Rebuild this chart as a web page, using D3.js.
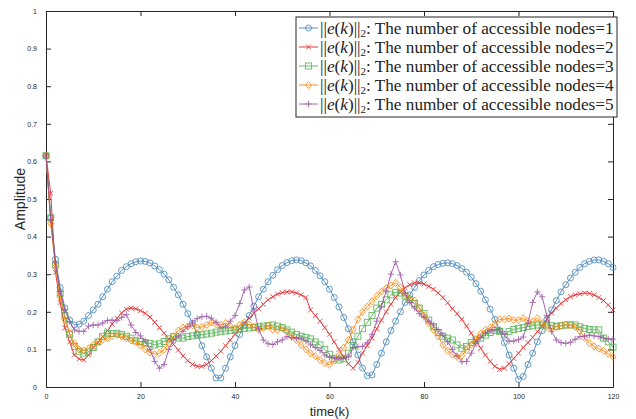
<!DOCTYPE html>
<html><head><meta charset="utf-8">
<script src="https://cdn.jsdelivr.net/npm/d3@7"></script>
<style>body{margin:0;background:#fff}svg{display:block}</style>
</head><body>
<svg id="c" width="636" height="419"></svg>
<script>
const xTicks = [0,20,40,60,80,100,120];
const yTicks = [0,0.1,0.2,0.3,0.4,0.5,0.6,0.7,0.8,0.9,1];
const seriesLabels = ["1","2","3","4","5"];
const seriesColors = ["#377eb8","#e41a1c","#4daf4a","#ff7f00","#984ea3"];
const seriesMarkers = ["circle","x","square","diamond","plus"];

const s1 = [0.615,0.45,0.34,0.265,0.21,0.178,0.165,0.167,0.175,0.19,0.205,0.22,0.24,0.26,0.28,0.295,0.31,0.32,0.328,0.333,0.335,0.334,0.33,0.322,0.312,0.3,0.285,0.265,0.245,0.22,0.195,0.17,0.14,0.11,0.08,0.05,0.024,0.024,0.05,0.08,0.11,0.14,0.165,0.19,0.215,0.24,0.26,0.28,0.297,0.312,0.323,0.331,0.336,0.338,0.336,0.33,0.322,0.31,0.296,0.28,0.26,0.238,0.213,0.185,0.155,0.12,0.085,0.05,0.03,0.032,0.06,0.09,0.12,0.15,0.175,0.2,0.225,0.245,0.265,0.283,0.298,0.31,0.32,0.326,0.329,0.33,0.328,0.323,0.315,0.305,0.292,0.275,0.255,0.232,0.207,0.18,0.15,0.118,0.085,0.05,0.02,0.028,0.06,0.09,0.12,0.15,0.18,0.205,0.23,0.253,0.272,0.29,0.305,0.318,0.328,0.334,0.338,0.338,0.334,0.328,0.318];
const s2 = [0.615,0.515,0.305,0.225,0.157,0.12,0.085,0.075,0.072,0.085,0.105,0.118,0.134,0.15,0.167,0.183,0.197,0.207,0.21,0.208,0.203,0.196,0.186,0.172,0.158,0.143,0.128,0.113,0.098,0.083,0.07,0.06,0.055,0.055,0.06,0.07,0.082,0.095,0.11,0.125,0.14,0.155,0.17,0.183,0.196,0.208,0.22,0.232,0.24,0.247,0.251,0.253,0.253,0.25,0.245,0.238,0.205,0.19,0.175,0.158,0.14,0.12,0.1,0.08,0.062,0.05,0.065,0.09,0.11,0.13,0.155,0.178,0.2,0.22,0.238,0.252,0.264,0.272,0.277,0.277,0.274,0.268,0.26,0.25,0.238,0.224,0.208,0.195,0.18,0.162,0.143,0.123,0.103,0.085,0.068,0.055,0.047,0.05,0.062,0.076,0.09,0.105,0.118,0.132,0.147,0.163,0.18,0.197,0.21,0.222,0.232,0.24,0.245,0.248,0.25,0.249,0.245,0.238,0.23,0.218,0.205];
const s3 = [0.615,0.45,0.325,0.25,0.19,0.14,0.108,0.095,0.09,0.093,0.105,0.12,0.135,0.143,0.142,0.143,0.14,0.135,0.13,0.123,0.121,0.118,0.116,0.112,0.115,0.121,0.128,0.134,0.13,0.13,0.134,0.136,0.138,0.139,0.141,0.143,0.146,0.147,0.149,0.15,0.152,0.154,0.156,0.157,0.158,0.16,0.162,0.163,0.165,0.162,0.158,0.152,0.146,0.14,0.135,0.132,0.128,0.12,0.112,0.1,0.087,0.075,0.072,0.075,0.09,0.11,0.135,0.155,0.172,0.19,0.21,0.22,0.232,0.245,0.252,0.25,0.242,0.232,0.222,0.21,0.196,0.178,0.161,0.145,0.135,0.13,0.125,0.112,0.103,0.108,0.118,0.125,0.13,0.138,0.145,0.15,0.148,0.139,0.148,0.153,0.156,0.158,0.161,0.163,0.165,0.165,0.165,0.163,0.161,0.163,0.165,0.165,0.165,0.16,0.156,0.153,0.152,0.152,0.13,0.12,0.106];
const s4 = [0.615,0.435,0.32,0.24,0.179,0.143,0.116,0.1,0.097,0.103,0.112,0.12,0.126,0.13,0.135,0.139,0.135,0.13,0.124,0.12,0.11,0.1,0.092,0.087,0.09,0.1,0.116,0.135,0.15,0.158,0.161,0.164,0.158,0.16,0.165,0.172,0.167,0.165,0.17,0.162,0.156,0.165,0.172,0.166,0.16,0.152,0.157,0.163,0.152,0.152,0.156,0.148,0.135,0.125,0.112,0.1,0.09,0.082,0.072,0.064,0.059,0.07,0.085,0.105,0.125,0.152,0.18,0.2,0.214,0.228,0.242,0.254,0.263,0.27,0.277,0.265,0.245,0.236,0.23,0.21,0.19,0.17,0.152,0.135,0.112,0.097,0.086,0.08,0.083,0.098,0.113,0.127,0.142,0.152,0.158,0.168,0.18,0.18,0.182,0.178,0.178,0.183,0.176,0.174,0.183,0.17,0.16,0.156,0.16,0.163,0.165,0.165,0.16,0.15,0.13,0.117,0.108,0.102,0.096,0.088,0.08];
const s5 = [0.615,0.445,0.33,0.254,0.205,0.174,0.152,0.148,0.148,0.162,0.165,0.165,0.17,0.177,0.178,0.176,0.185,0.193,0.165,0.145,0.136,0.122,0.1,0.068,0.05,0.06,0.1,0.125,0.135,0.148,0.16,0.17,0.182,0.187,0.188,0.183,0.172,0.158,0.16,0.175,0.19,0.222,0.258,0.266,0.205,0.155,0.125,0.115,0.113,0.12,0.125,0.134,0.131,0.13,0.13,0.122,0.112,0.105,0.097,0.085,0.08,0.077,0.077,0.077,0.08,0.105,0.107,0.108,0.118,0.14,0.175,0.215,0.255,0.3,0.333,0.298,0.25,0.225,0.21,0.195,0.185,0.175,0.165,0.152,0.138,0.12,0.1,0.083,0.067,0.068,0.09,0.115,0.132,0.143,0.15,0.153,0.152,0.14,0.122,0.122,0.126,0.133,0.17,0.225,0.253,0.24,0.19,0.148,0.125,0.118,0.116,0.119,0.127,0.134,0.135,0.138,0.136,0.134,0.13,0.128,0.127];
const seriesValues = [s1,s2,s3,s4,s5];

const svg = d3.select("#c");
const L=46, R=613, T=11, B=387;
const x = d3.scaleLinear().domain([0,120]).range([L,R]);
const y = d3.scaleLinear().domain([0,1]).range([B,T]);
const axCol = "#262626";
const tickFont = "Liberation Sans, Arial, sans-serif";

const gx = svg.append("g").attr("transform",`translate(0,${B})`)
  .call(d3.axisBottom(x).tickValues(xTicks).tickSizeInner(-5).tickSizeOuter(0).tickPadding(7));
const gy = svg.append("g").attr("transform",`translate(${L},0)`)
  .call(d3.axisLeft(y).tickValues(yTicks).tickFormat(d=>d3.format("~g")(d)).tickSizeInner(-5).tickSizeOuter(0).tickPadding(9));
const gt = svg.append("g").attr("transform",`translate(0,${T})`)
  .call(d3.axisTop(x).tickValues(xTicks).tickSizeInner(-5).tickSizeOuter(0).tickFormat(""));
const gr = svg.append("g").attr("transform",`translate(${R},0)`)
  .call(d3.axisRight(y).tickValues(yTicks).tickSizeInner(-5).tickSizeOuter(0).tickFormat(""));
[gx,gy,gt,gr].forEach(g=>{
  g.selectAll("path").attr("stroke",axCol).attr("stroke-width",1);
  g.selectAll("line").attr("stroke",axCol);
  g.selectAll("text").attr("fill",axCol).style("font-family",tickFont).style("font-size","7px");
});

function marker(g, type, cx, cy, col){
  const s=3;
  if(type==="circle") g.append("circle").attr("cx",cx).attr("cy",cy).attr("r",s).attr("fill","none").attr("stroke",col).attr("stroke-width",0.9);
  else if(type==="square") g.append("rect").attr("x",cx-s).attr("y",cy-s).attr("width",2*s).attr("height",2*s).attr("fill","none").attr("stroke",col).attr("stroke-width",0.9);
  else if(type==="diamond") g.append("path").attr("d",`M${cx},${cy-s-0.6}L${cx+s},${cy}L${cx},${cy+s+0.6}L${cx-s},${cy}Z`).attr("fill","none").attr("stroke",col).attr("stroke-width",0.9);
  else if(type==="x") g.append("path").attr("d",`M${cx-2.4},${cy-2.4}L${cx+2.4},${cy+2.4}M${cx-2.4},${cy+2.4}L${cx+2.4},${cy-2.4}`).attr("stroke",col).attr("stroke-width",0.9);
  else if(type==="plus") g.append("path").attr("d",`M${cx-3.2},${cy}L${cx+3.2},${cy}M${cx},${cy-3.2}L${cx},${cy+3.2}`).attr("stroke",col).attr("stroke-width",0.9);
}

const line = d3.line().x((d,i)=>x(i)).y(d=>y(d));
const plot = svg.append("g");
seriesValues.forEach((vals,si)=>{
  const g = plot.append("g").attr("opacity",0.85);
  g.append("path").datum(vals).attr("d",line).attr("fill","none").attr("stroke",seriesColors[si]).attr("stroke-width",1);
  vals.forEach((v,i)=>marker(g, seriesMarkers[si], x(i), y(v), seriesColors[si]));
});

svg.append("text").attr("x",(L+R)/2).attr("y",416).attr("text-anchor","middle")
  .style("font-family",tickFont).style("font-size","13px").attr("fill",axCol).text("time(k)");
svg.append("text").attr("transform",`translate(25,${(T+B)/2}) rotate(-90)`).attr("text-anchor","middle")
  .style("font-family",tickFont).style("font-size","14px").attr("fill",axCol).text("Amplitude");

const lg = svg.append("g");
const lgX=296, lgY=17, lgW=321, lgH=100, rowH=19;
lg.append("rect").attr("x",lgX).attr("y",lgY).attr("width",lgW).attr("height",lgH).attr("fill","#fff").attr("stroke",axCol).attr("stroke-width",1);
seriesLabels.forEach((lab,i)=>{
  const cy = lgY+11+i*rowH;
  const g = lg.append("g").attr("opacity",0.85);
  g.append("line").attr("x1",lgX+3).attr("x2",lgX+22).attr("y1",cy).attr("y2",cy).attr("stroke",seriesColors[i]).attr("stroke-width",1);
  marker(g, seriesMarkers[i], lgX+12.5, cy, seriesColors[i]);
  const t = lg.append("text").attr("x",lgX+24).attr("y",cy+5.5)
    .style("font-family","Liberation Serif, 'DejaVu Serif', serif").style("font-size","16px").attr("fill","#222");
  t.append("tspan").text("||");
  t.append("tspan").style("font-style","italic").text("e");
  t.append("tspan").text("(");
  t.append("tspan").style("font-style","italic").text("k");
  t.append("tspan").text(")||");
  t.append("tspan").attr("dy",3).style("font-size","11px").text("2");
  t.append("tspan").attr("dy",-3).text(": The number of accessible nodes="+lab);
  const w = t.node().getComputedTextLength();
  const target = lgW-27;
  if (w>0) t.style("font-size", (16*target/w).toFixed(2)+"px");
});
</script>
</body></html>
